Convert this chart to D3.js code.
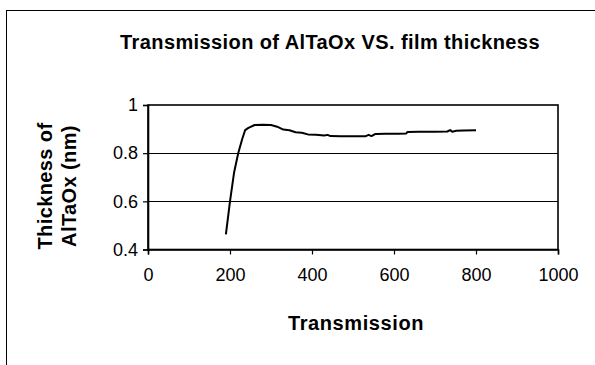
<!DOCTYPE html>
<html>
<head>
<meta charset="utf-8">
<script src="https://cdn.jsdelivr.net/npm/d3@7"></script>
<style>
  html, body { margin: 0; padding: 0; background: #fff; }
  svg { display: block; }
</style>
</head>
<body>
<svg id="chart" width="595" height="365"></svg>
<script>
// Measured film transmission vs. AlTaOx thickness
const transmission = [190, 200, 210, 220, 230, 237, 245, 260, 280, 300, 315, 330, 345, 360, 375, 390, 410, 430, 438, 445, 470, 500, 530, 538, 545, 555, 580, 610, 630, 633, 660, 700, 730, 737, 742, 752, 770, 800];
const thickness    = [0.463, 0.60, 0.72, 0.80, 0.86, 0.896, 0.905, 0.917, 0.918, 0.917, 0.910, 0.898, 0.895, 0.887, 0.885, 0.878, 0.876, 0.873, 0.876, 0.871, 0.870, 0.870, 0.870, 0.876, 0.871, 0.880, 0.881, 0.881, 0.882, 0.888, 0.889, 0.889, 0.890, 0.896, 0.889, 0.893, 0.894, 0.895];

const xTicks = [0, 200, 400, 600, 800, 1000];
const yTicks = [0.4, 0.6, 0.8, 1];

const titleText = "Transmission of AlTaOx VS. film thickness";
const xTitle = "Transmission";
const yTitleLines = ["Thickness of", "AlTaOx (nm)"];

const svg = d3.select("#chart");
const W = 595, H = 365;
const plot = { left: 148, right: 558, top: 105, bottom: 249.5 };

const x = d3.scaleLinear().domain([0, 1000]).range([plot.left, plot.right]);
const y = d3.scaleLinear().domain([0.4, 1]).range([plot.bottom, plot.top]);

const font = "'Liberation Sans', Arial, sans-serif";

// chart frame (top and left edges)
svg.append("line").attr("x1", 6).attr("x2", W).attr("y1", 10.5).attr("y2", 10.5)
  .attr("stroke", "#000").attr("stroke-width", 1);
svg.append("line").attr("x1", 6.5).attr("x2", 6.5).attr("y1", 10).attr("y2", H)
  .attr("stroke", "#000").attr("stroke-width", 1);

// title
svg.append("text")
  .attr("x", 330).attr("y", 49)
  .attr("text-anchor", "middle")
  .attr("font-family", font).attr("font-weight", "bold").attr("font-size", 20)
  .attr("letter-spacing", 0.4)
  .text(titleText);

// horizontal gridlines
svg.append("g").selectAll("line")
  .data(yTicks.filter(d => d > 0.4 && d < 1))
  .join("line")
  .attr("x1", plot.left).attr("x2", plot.right)
  .attr("y1", d => Math.round(y(d)) + 0.5).attr("y2", d => Math.round(y(d)) + 0.5)
  .attr("stroke", "#000").attr("stroke-width", 1.2);

// plot area border
svg.append("rect")
  .attr("x", plot.left).attr("y", plot.top)
  .attr("width", plot.right - plot.left).attr("height", plot.bottom - plot.top)
  .attr("fill", "none").attr("stroke", "#000").attr("stroke-width", 1.6);

// axes
const xAxis = d3.axisBottom(x).tickValues(xTicks).tickSize(5).tickPadding(14).tickFormat(d3.format("d"));
const yAxis = d3.axisLeft(y).tickValues(yTicks).tickSize(5).tickPadding(5).tickFormat(d => d === 1 ? "1" : d3.format(".1f")(d));

const gx = svg.append("g").attr("transform", `translate(0,${plot.bottom})`).call(xAxis);
const gy = svg.append("g").attr("transform", `translate(${plot.left},0)`).call(yAxis);
[gx, gy].forEach(g => {
  g.select(".domain").attr("stroke", "#000").attr("stroke-width", 1.6);
  g.selectAll(".tick line").attr("stroke", "#000").attr("stroke-width", 1.2);
  g.selectAll(".tick text").attr("font-family", font).attr("font-size", 18).attr("fill", "#000");
});

// data line
const line = d3.line().x((d, i) => x(transmission[i])).y(d => y(d));
svg.append("path")
  .datum(thickness)
  .attr("d", line)
  .attr("fill", "none").attr("stroke", "#000").attr("stroke-width", 2)
  .attr("stroke-linejoin", "round");

// axis titles
svg.append("text")
  .attr("x", 356).attr("y", 330)
  .attr("text-anchor", "middle")
  .attr("font-family", font).attr("font-weight", "bold").attr("font-size", 20)
  .attr("letter-spacing", 0.6)
  .text(xTitle);

const yt = svg.append("text")
  .attr("transform", "translate(0,186) rotate(-90)")
  .attr("text-anchor", "middle")
  .attr("font-family", font).attr("font-weight", "bold").attr("font-size", 20)
  .attr("letter-spacing", 0.4);
yt.selectAll("tspan").data(yTitleLines).join("tspan")
  .attr("x", 0).attr("y", (d, i) => 52 + i * 24)
  .text(d => d);
</script>
</body>
</html>
